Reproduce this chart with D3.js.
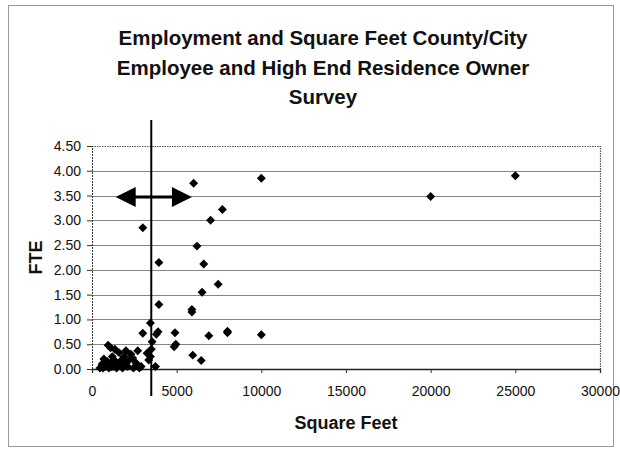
<!DOCTYPE html>
<html>
<head>
<meta charset="utf-8">
<script src="https://cdn.jsdelivr.net/npm/d3@7"></script>
<style>
  html, body { margin: 0; padding: 0; background: #fff; }
  svg { display: block; font-family: "Liberation Sans", Arial, sans-serif; }
</style>
</head>
<body>
<svg id="chart" width="620" height="452"></svg>
<script>
// Survey responses: floor area (square feet) and full-time-equivalent staff
const sqft = [
  470, 600, 650, 700, 800, 850, 900, 950, 1000, 1100, 1100, 1150, 1200, 1250,
  1350, 1400, 1450, 1550, 1600, 1700, 1750, 1800, 1900, 2000, 2000, 2100, 2200,
  2300, 2400, 2450, 2600, 2700, 2800, 2900,
  3000, 3000, 3250, 3350, 3450, 3450, 3500, 3550, 3750, 3800, 3900, 3950, 3950,
  4850, 4950, 4900, 5900, 5900, 5950, 6000, 6200, 6450, 6500, 6600, 6900, 7000,
  7450, 7700, 8000, 8000, 10000, 10000, 20000, 25000
];
const fte = [
  0.02, 0.10, 0.02, 0.20, 0.05, 0.12, 0.15, 0.48, 0.02, 0.43, 0.12, 0.05, 0.25, 0.05,
  0.40, 0.15, 0.02, 0.08, 0.33, 0.10, 0.18, 0.02, 0.25, 0.37, 0.12, 0.05, 0.18,
  0.30, 0.22, 0.02, 0.12, 0.37, 0.02, 0.05,
  0.72, 2.85, 0.32, 0.18, 0.25, 0.93, 0.40, 0.55, 0.05, 0.70, 0.75, 1.30, 2.15,
  0.45, 0.50, 0.73, 1.15, 1.20, 0.28, 3.75, 2.48, 0.17, 1.55, 2.12, 0.67, 3.00,
  1.71, 3.22, 0.73, 0.76, 3.85, 0.69, 3.48, 3.90
];

// Axis ticks
const xTicks = [0, 5000, 10000, 15000, 20000, 25000, 30000];
const yTicks = [0, 0.5, 1, 1.5, 2, 2.5, 3, 3.5, 4, 4.5];

// Reference line and the range arrow drawn across it
const thresholdSqft = 3500;
const arrowRange = [1400, 5900];
const arrowFte = 3.47;

const titleLines = [
  "Employment and Square Feet County/City",
  "Employee and High End Residence Owner",
  "Survey"
];

const svg = d3.select("#chart");
const plot = { left: 92, right: 600, top: 146, bottom: 369 };

const x = d3.scaleLinear().domain([0, 30000]).range([plot.left, plot.right]);
const y = d3.scaleLinear().domain([0, 4.5]).range([plot.bottom, plot.top]);

// Outer chart frame
svg.append("rect")
  .attr("x", 8.5).attr("y", 5.5).attr("width", 605).attr("height", 441)
  .attr("fill", "#fff").attr("stroke", "#9a9a9a").attr("stroke-width", 1);

// Title
svg.append("g").selectAll("text").data(titleLines).join("text")
  .attr("x", 323).attr("y", (d, i) => 45 + i * 29.5)
  .attr("text-anchor", "middle")
  .attr("font-size", 20.5).attr("font-weight", "bold").attr("fill", "#111")
  .text(d => d);

// Horizontal gridlines
svg.append("g").selectAll("line").data(yTicks.slice(1, -1)).join("line")
  .attr("x1", plot.left).attr("x2", plot.right)
  .attr("y1", d => Math.round(y(d)) + 0.5).attr("y2", d => Math.round(y(d)) + 0.5)
  .attr("stroke", "#858585").attr("stroke-width", 1);

// Dotted top and right plot border
svg.append("path")
  .attr("d", `M${plot.left},${plot.top + 0.5}H${plot.right + 0.5}V${plot.bottom}`)
  .attr("fill", "none").attr("stroke", "#555").attr("stroke-width", 1.2)
  .attr("stroke-dasharray", "1.5,1");

// Y axis
const yAxis = d3.axisLeft(y).tickValues(yTicks).tickFormat(d3.format(".2f"))
  .tickSize(5).tickPadding(6);
const gy = svg.append("g").attr("transform", `translate(${plot.left},0)`).call(yAxis)
  .attr("font-size", 14).attr("font-family", "Liberation Sans, Arial, sans-serif");
gy.select(".domain").attr("stroke", "#333").attr("stroke-dasharray", "2,1");
gy.selectAll(".tick line").attr("stroke", "#333");
gy.selectAll(".tick text").attr("fill", "#111");

// X axis
const xAxis = d3.axisBottom(x).tickValues(xTicks).tickFormat(d3.format("d"))
  .tickSize(4).tickPadding(13);
const gx = svg.append("g").attr("transform", `translate(0,${plot.bottom})`).call(xAxis)
  .attr("font-size", 14).attr("font-family", "Liberation Sans, Arial, sans-serif");
gx.select(".domain").attr("stroke", "#222").attr("stroke-width", 1.3);
gx.selectAll(".tick line").attr("stroke", "#333");
gx.selectAll(".tick text").attr("fill", "#111");

// Axis titles
svg.append("text")
  .attr("x", 346).attr("y", 429).attr("text-anchor", "middle")
  .attr("font-size", 18).attr("font-weight", "bold").attr("fill", "#111")
  .text("Square Feet");
svg.append("text")
  .attr("transform", `translate(42,${(plot.top + plot.bottom) / 2}) rotate(-90)`)
  .attr("text-anchor", "middle")
  .attr("font-size", 18).attr("font-weight", "bold").attr("fill", "#111")
  .text("FTE");

// Data points as diamonds
const diamond = d3.symbol().type(d3.symbolSquare).size(40);
svg.append("g").selectAll("path").data(sqft.map((s, i) => [s, fte[i]])).join("path")
  .attr("d", diamond)
  .attr("transform", d => `translate(${x(d[0])},${y(d[1])}) rotate(45)`)
  .attr("fill", "#000");

// Vertical reference line
svg.append("line")
  .attr("x1", x(thresholdSqft)).attr("x2", x(thresholdSqft))
  .attr("y1", 120).attr("y2", 396)
  .attr("stroke", "#000").attr("stroke-width", 2);

// Double-headed arrow
const ay = y(arrowFte);
const xa = x(arrowRange[0]), xb = x(arrowRange[1]);
const head = 20, halfH = 10;
svg.append("line")
  .attr("x1", xa + head - 2).attr("x2", xb - head + 2)
  .attr("y1", ay).attr("y2", ay)
  .attr("stroke", "#000").attr("stroke-width", 3);
svg.append("path")
  .attr("d", `M${xa},${ay}L${xa + head},${ay - halfH}L${xa + head},${ay + halfH}Z`)
  .attr("fill", "#000");
svg.append("path")
  .attr("d", `M${xb},${ay}L${xb - head},${ay - halfH}L${xb - head},${ay + halfH}Z`)
  .attr("fill", "#000");
</script>
</body>
</html>
